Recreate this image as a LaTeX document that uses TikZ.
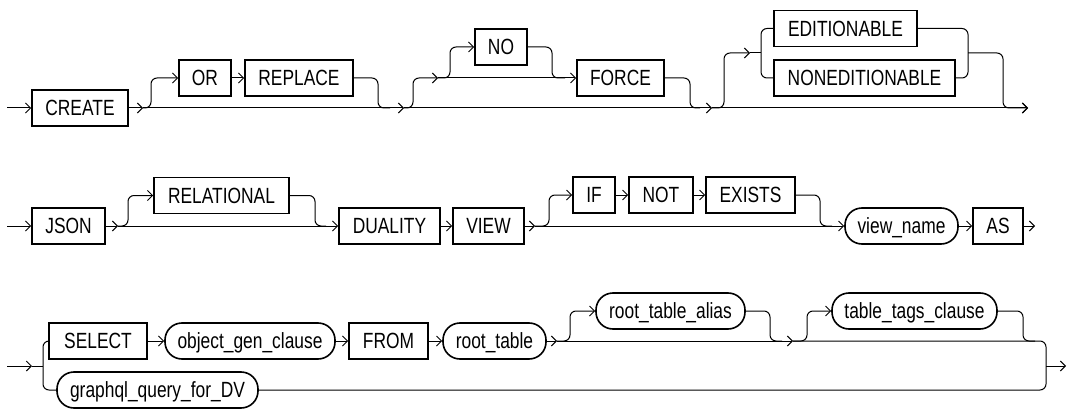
\documentclass[tikz,border=0pt]{standalone}
\usepackage{fontspec}
\setmainfont{Liberation Sans}[FakeStretch=0.79]
\usetikzlibrary{arrows.meta}
\begin{document}
\begin{tikzpicture}[x=1pt,y=-1pt,
  >={Straight Barb[length=5pt,width=10pt]},
  line/.style={line width=1pt},
  rr/.style={line width=1pt, rounded corners=6pt},
  term/.style={draw, line width=1.6pt, rectangle, minimum height=36pt, minimum width=#1,
    inner sep=0pt, text height=15.5pt, text depth=0pt, font=\fontsize{22}{26}\selectfont},
  nterm/.style={term=#1, rounded corners=17pt},
]
\useasboundingbox (0,0) rectangle (1068,409);

% ---------- row 1 ----------
\coordinate (s1) at (7,108);
\node[term=96pt] (create) at (80,108) {CREATE};
\coordinate (j1) at (143,108);
\node[term=52pt] (or) at (205,78) {OR};
\node[term=108pt] (replace) at (299,78) {REPLACE};
\coordinate (j2) at (404,108);
\coordinate (j4) at (438,78);
\node[term=52pt] (no) at (501,47) {NO};
\node[term=87pt] (force) at (620.5,78) {FORCE};
\coordinate (j3) at (712,108);
\coordinate (j6) at (750,53);
\node[term=143pt] (edit) at (845.5,28.5) {EDITIONABLE};
\node[term=181pt] (nonedit) at (864.5,78) {NONEDITIONABLE};
\coordinate (j5) at (1028,108);

\draw[line,->] (s1) -- (create.west);
\draw[line,->] (create.east) -- (j1);
\draw[line,->] (j1) -- (j2);
\draw[rr,->] (j1) -- ++(8,0) |- (or.west);
\draw[line,->] (or.east) -- (replace.west);
\draw[rr] (replace.east) -| (378,108) -- (390,108);
\draw[line,->] (j2) -- (j3);
\draw[rr,->] (j2) -- ++(9,0) |- (j4);
\draw[line,->] (j4) -- (force.west);
\draw[rr,->] (j4) -- ++(12,0) |- (no.west);
\draw[rr] (no.east) -| (552,78) -- (565,78);
\draw[rr] (force.east) -| (690,108) -- (700,108);
\draw[line,->] (j3) -- (j5);
\draw[rr,->] (j3) -- ++(12,0) |- (j6);
\draw[line] (j6) -- (761,53);
\draw[rr] (edit.west) -| (761,60) |- (nonedit.west);
\draw[rr] (edit.east) -| (968,60) |- (nonedit.east);
\draw[rr,->] (968,53) -| (1003,108) -- (j5);

% ---------- row 2 ----------
\coordinate (s2) at (7,226);
\node[term=73pt] (json) at (68.5,226) {JSON};
\coordinate (j7) at (118,226);
\node[term=135pt] (rel) at (221.5,195.5) {RELATIONAL};
\node[term=101pt] (dual) at (389.5,226) {DUALITY};
\node[term=71pt] (view) at (488.5,226) {VIEW};
\coordinate (j8) at (535,226);
\node[term=42pt] (if) at (594,195) {IF};
\node[term=64pt] (not) at (661,195) {NOT};
\node[term=89pt] (exists) at (750.5,195) {EXISTS};
\node[nterm=113pt] (vn) at (901.5,226) {view\_name};
\node[term=50pt] (as) at (998,226) {AS};
\coordinate (j9) at (1035,226);

\draw[line,->] (s2) -- (json.west);
\draw[line,->] (json.east) -- (j7);
\draw[line,->] (j7) -- (dual.west);
\draw[rr,->] (j7) -- ++(10,0) |- (rel.west);
\draw[rr] (rel.east) -| (315,226) -- (326,226);
\draw[line,->] (dual.east) -- (view.west);
\draw[line,->] (view.east) -- (j8);
\draw[line,->] (j8) -- (vn.west);
\draw[rr,->] (j8) -- ++(14,0) |- (if.west);
\draw[line,->] (if.east) -- (not.west);
\draw[line,->] (not.east) -- (exists.west);
\draw[rr] (exists.east) -| (820,226) -- (832,226);
\draw[line,->] (vn.east) -- (as.west);
\draw[line,->] (as.east) -- (j9);

% ---------- row 3 ----------
\coordinate (s3) at (7,366);
\coordinate (j10) at (32,366);
\node[term=98pt] (sel) at (98,341) {SELECT};
\node[nterm=201pt] (gql) at (157.5,390) {graphql\_query\_for\_DV};
\node[nterm=170pt] (ogc) at (250,341) {object\_gen\_clause};
\node[term=79pt] (from) at (388.5,341) {FROM};
\node[nterm=103pt] (rt) at (494.5,341) {root\_table};
\coordinate (j11) at (557,341);
\node[nterm=149pt] (rta) at (670.5,311) {root\_table\_alias};
\coordinate (j12) at (793,341);
\node[nterm=165pt] (ttc) at (914.5,311) {table\_tags\_clause};
\coordinate (e3) at (1066,366);

\draw[line,->] (s3) -- (j10);
\draw[line] (j10) -- (43,366);
\draw[rr] (sel.west) -| (43,366) |- (gql.west);
\draw[line,->] (sel.east) -- (ogc.west);
\draw[line,->] (ogc.east) -- (from.west);
\draw[line,->] (from.east) -- (rt.west);
\draw[line,->] (rt.east) -- (j11);
\draw[line,->] (j11) -- (j12);
\draw[rr,->] (j11) -- ++(13,0) |- (rta.west);
\draw[rr] (rta.east) -| (770,341) -- (782,341);
\draw[rr,->] (j12) -- ++(14,0) |- (ttc.west);
\draw[rr] (ttc.east) -| (1023,341) -- (1035,341);
\draw[rr] (j12) -- (1046,341) -- (1046,390) -- (gql.east);
\draw[line,->] (1046,366) -- (e3);
\end{tikzpicture}
\end{document}
